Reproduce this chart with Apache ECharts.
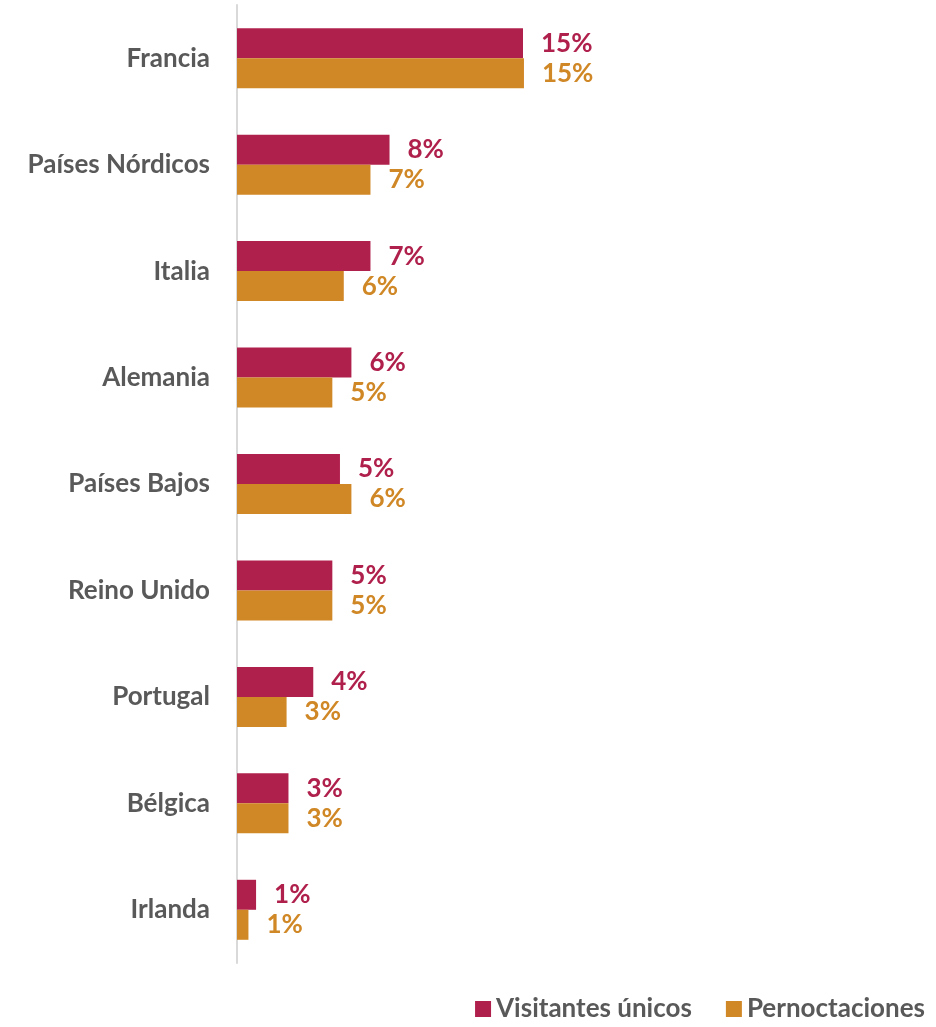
<!DOCTYPE html>
<html>
<head>
<meta charset="utf-8">
<script src="https://cdn.jsdelivr.net/npm/echarts@6/dist/echarts.min.js"></script>
<style>
  html, body { margin: 0; padding: 0; background: #fff; }
  #chart { width: 936px; height: 1027px; }
</style>
</head>
<body>
<div id="chart"></div>
<script>
var categories = ["Francia", "Países Nórdicos", "Italia", "Alemania", "Países Bajos", "Reino Unido", "Portugal", "Bélgica", "Irlanda"];
var visitantes = [15.0, 8.0, 7.0, 6.0, 5.4, 5.0, 4.0, 2.7, 1.0];
var pernoctaciones = [15.05, 7.0, 5.6, 5.0, 6.0, 5.0, 2.6, 2.7, 0.6];

var chart = echarts.init(document.getElementById("chart"));
var font = "Lato, 'Open Sans', sans-serif";

function makeLabel(color) {
  return {
    show: true,
    position: "right",
    distance: 18,
    formatter: function (p) { return Math.round(p.value) + "%"; },
    color: color,
    fontWeight: "bold",
    fontSize: 26,
    fontFamily: font
  };
}

var option = {
  animation: false,
  color: ["#B0204C", "#D08725"],
  legend: {
    bottom: 0,
    right: 6,
    itemWidth: 16,
    itemHeight: 16,
    itemGap: 34,
    icon: "rect",
    textStyle: { color: "#595959", fontWeight: "bold", fontSize: 26, fontFamily: font },
    data: ["Visitantes únicos", "Pernoctaciones"]
  },
  grid: { left: 237, right: 127, top: 5, bottom: 64, containLabel: false },
  xAxis: {
    type: "value",
    min: 0,
    max: 30,
    show: false
  },
  yAxis: {
    type: "category",
    inverse: true,
    data: categories,
    axisLine: { show: true, lineStyle: { color: "#d9d9d9", width: 2 } },
    axisTick: { show: false },
    axisLabel: { color: "#595959", fontWeight: "bold", fontSize: 26, fontFamily: font, margin: 27 }
  },
  series: [
    {
      name: "Visitantes únicos",
      type: "bar",
      barWidth: 30,
      barGap: 0,
      label: makeLabel("#B0204C"),
      data: visitantes
    },
    {
      name: "Pernoctaciones",
      type: "bar",
      barWidth: 30,
      label: makeLabel("#D08725"),
      data: pernoctaciones
    }
  ]
};
chart.setOption(option);
</script>
</body>
</html>
